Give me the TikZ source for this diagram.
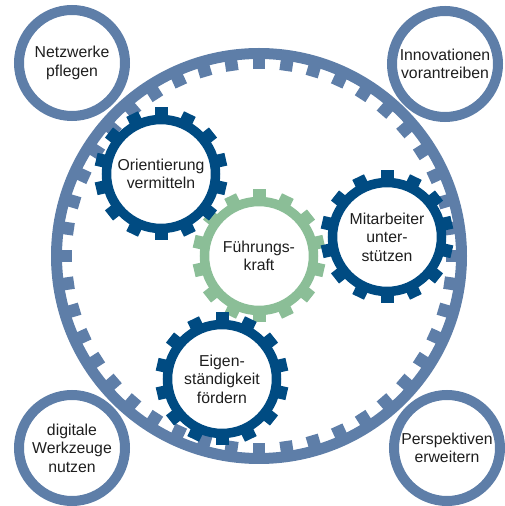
\documentclass[tikz,border=0pt]{standalone}
\usepackage{fontspec}
\setmainfont{Liberation Sans}
\definecolor{ringblue}{RGB}{94,126,168}
\definecolor{gearblue}{RGB}{0,75,130}
\definecolor{geargreen}{RGB}{139,190,151}
\definecolor{txtgray}{RGB}{30,30,30}
\begin{document}
\begin{tikzpicture}[x=1pt,y=1pt,
  txt/.style={align=center,font=\fontsize{15.8}{18.5}\selectfont,text=txtgray},
  hub/.style={line width=10pt,draw=ringblue}]
\useasboundingbox (0,0) rectangle (505,506);
% labels
\node[txt] (netz) at (72,443) {Netzwerke\\pflegen};
\node[txt] (innov) at (445,442) {Innovationen\\vorantreiben};
\node[txt] (digital) at (72,58) {digitale\\Werkzeuge\\nutzen};
\node[txt] (persp) at (447,58) {Perspektiven\\erweitern};
\node[txt] (fuehr) at (259,250) {Führungs-\\kraft};
\node[txt] (orient) at (161,332) {Orientierung\\vermitteln};
\node[txt] (mitarb) at (387,269) {Mitarbeiter\\unter-\\stützen};
\node[txt] (eigen) at (222,127) {Eigen-\\ständigkeit\\fördern};
% corner circles
\foreach \c in {netz,innov,digital,persp}
  \draw[hub] (\c.center) circle (53);
% big ring, teeth inside
\draw[ringblue,line width=11pt] (fuehr.center) circle (202.5);
\foreach \i in {0,...,43}
  \fill[ringblue,shift={(fuehr.center)},rotate=\i*360/44] (187,-6.3) rectangle (198,6.3);
% gears
\foreach \g/\col in {fuehr/geargreen,orient/gearblue,mitarb/gearblue,eigen/gearblue}{
  \draw[\col,line width=9.5pt] (\g.center) circle (54.5);
  \foreach \i in {0,...,13}
    \fill[\col,shift={(\g.center)},rotate=90+\i*360/14] (58,-6.5) rectangle (66.5,6.5);
}
\end{tikzpicture}
\end{document}
